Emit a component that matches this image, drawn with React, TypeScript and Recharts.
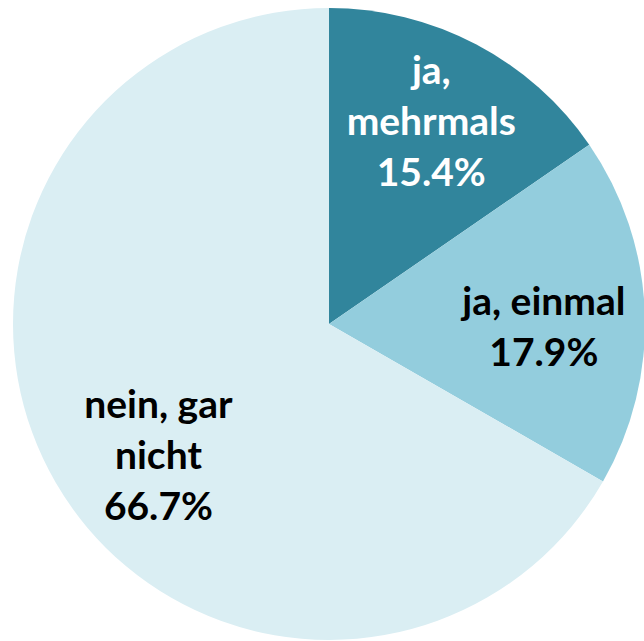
import { Cell, Pie, PieChart } from "recharts";

const categories = ["ja, mehrmals", "ja, einmal", "nein, gar nicht"];
const shares = [15.4, 17.9, 66.7];

const COLORS = ["#31859C", "#93CDDD", "#DAEEF3"];
const TEXT_COLORS = ["#FFFFFF", "#000000", "#000000"];
// label placement nudges (radius fraction, angle offset in degrees)
const LABEL_RADIUS = [0.72, 0.68, 0.68];
const LABEL_ANGLE = [1, -3, 7.4];

const FONT = 39;
const LINE_H = 51;
const RAD = Math.PI / 180;

const data = categories.map((name, i) => ({ name, value: shares[i] }));

function wrap(text: string, max = 10) {
  const lines: string[] = [];
  let cur = "";
  for (const w of text.split(" ")) {
    const next = cur ? cur + " " + w : w;
    if (next.length > max && cur) {
      lines.push(cur);
      cur = w;
    } else {
      cur = next;
    }
  }
  if (cur) lines.push(cur);
  return lines;
}

function renderLabel(props: any) {
  const { cx, cy, outerRadius, midAngle, index, name, value } = props;
  const r = outerRadius * LABEL_RADIUS[index];
  const a = (midAngle + LABEL_ANGLE[index]) * RAD;
  const x = cx + r * Math.cos(a);
  const y = cy - r * Math.sin(a);
  const lines = [...wrap(name), `${value.toFixed(1)}%`];
  const top = y - ((lines.length - 1) * LINE_H) / 2 + FONT * 0.36;
  return (
    <text
      x={x}
      y={top}
      textAnchor="middle"
      fill={TEXT_COLORS[index]}
      fontFamily="Lato, 'Noto Sans', sans-serif"
      fontWeight={700}
      fontSize={FONT}
    >
      {lines.map((l, k) => (
        <tspan key={k} x={x} y={top + k * LINE_H}>
          {l}
        </tspan>
      ))}
    </text>
  );
}

export default function App() {
  return (
    <div style={{ position: "absolute", left: 0, top: 0, width: 644, height: 641, background: "#fff" }}>
      <PieChart width={644} height={641} margin={{ top: 0, right: 0, bottom: 0, left: 0 }}>
        <Pie
          data={data}
          dataKey="value"
          nameKey="name"
          cx={329}
          cy={324}
          outerRadius={316}
          startAngle={90}
          endAngle={-270}
          stroke="none"
          labelLine={false}
          label={renderLabel}
          isAnimationActive={false}
        >
          {data.map((d, i) => (
            <Cell key={d.name} fill={COLORS[i]} />
          ))}
        </Pie>
      </PieChart>
    </div>
  );
}
